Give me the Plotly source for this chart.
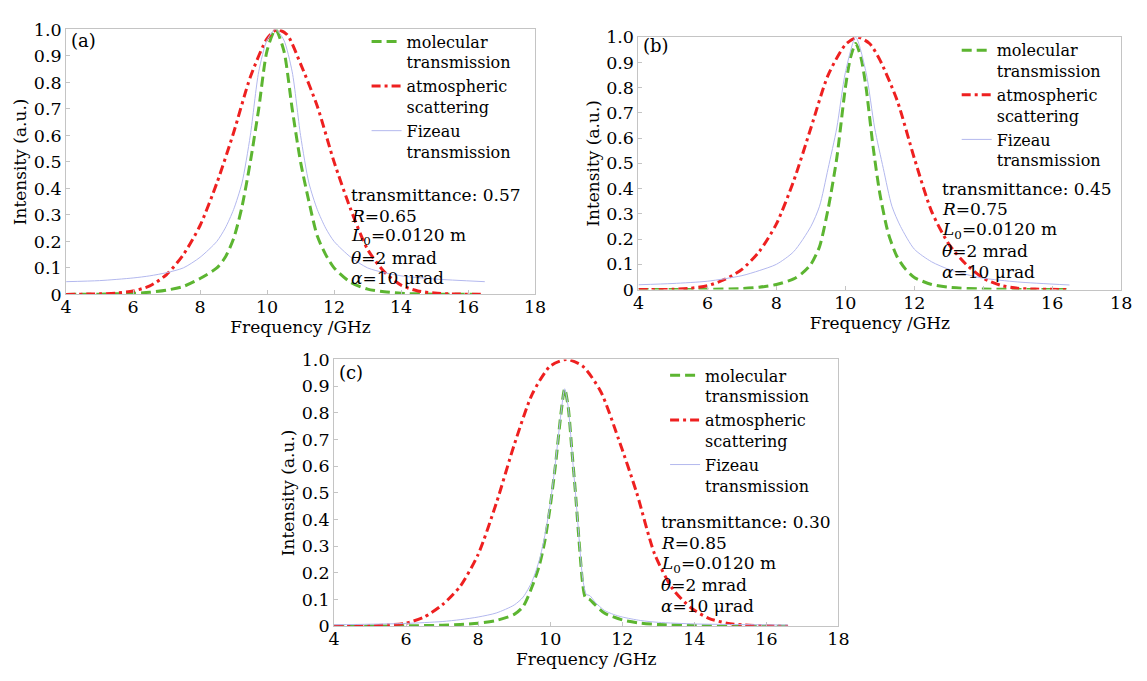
import plotly.graph_objects as go

# ---------------- data ----------------
# Panel (a)
a_red_x = [4, 5, 5.5, 6, 6.5, 7, 7.5, 8, 8.5, 9, 9.5, 10, 10.3, 10.6, 11, 11.5, 12, 12.5, 13, 13.5, 14, 14.5, 15, 15.5, 16.5]
a_red_y = [0, 0.002, 0.005, 0.013, 0.032, 0.075, 0.15, 0.26, 0.42, 0.61, 0.82, 0.965, 1.0, 0.98, 0.87, 0.71, 0.5, 0.32, 0.17, 0.085, 0.035, 0.013, 0.005, 0.002, 0]

a_green_x = [4, 5, 6, 6.5, 7, 7.5, 8, 8.5, 8.75, 9, 9.25, 9.5, 9.75, 10, 10.25, 10.5, 10.75, 11, 11.25, 11.5, 11.75, 12, 12.5, 13, 13.5, 14, 15, 16.5]
a_green_y = [0, 0.001, 0.004, 0.008, 0.016, 0.03, 0.06, 0.1, 0.14, 0.21, 0.33, 0.5, 0.7, 0.92, 1.0, 0.92, 0.7, 0.5, 0.35, 0.22, 0.15, 0.1, 0.045, 0.02, 0.01, 0.004, 0.001, 0]

a_blue_x = [4, 5, 6, 6.5, 7, 7.5, 8, 8.5, 8.75, 9, 9.25, 9.5, 9.75, 10, 10.25, 10.5, 10.75, 11, 11.25, 11.5, 11.75, 12, 12.5, 13, 13.5, 14, 15, 16.5]
a_blue_y = [0.048, 0.052, 0.062, 0.07, 0.082, 0.1, 0.14, 0.2, 0.25, 0.32, 0.42, 0.6, 0.84, 0.96, 1.0, 0.96, 0.84, 0.6, 0.42, 0.32, 0.25, 0.2, 0.14, 0.1, 0.082, 0.07, 0.058, 0.048]

# Panel (b)
b_red_x = [4, 5, 5.5, 6, 6.5, 7, 7.5, 8, 8.5, 9, 9.5, 10, 10.35, 10.7, 11, 11.5, 12, 12.5, 13, 13.5, 14, 14.5, 15, 15.5, 16.5]
b_red_y = [0, 0.001, 0.005, 0.015, 0.04, 0.08, 0.15, 0.26, 0.43, 0.64, 0.85, 0.97, 1.0, 0.975, 0.91, 0.75, 0.52, 0.31, 0.18, 0.1, 0.045, 0.017, 0.005, 0.002, 0]

b_green_x = [4, 6, 7, 7.5, 8, 8.5, 8.75, 9, 9.25, 9.5, 9.75, 10, 10.15, 10.3, 10.45, 10.6, 10.8, 11, 11.25, 11.5, 11.75, 12, 12.5, 13, 14, 16.5]
b_green_y = [0, 0.001, 0.004, 0.009, 0.02, 0.042, 0.065, 0.1, 0.17, 0.32, 0.52, 0.8, 0.92, 0.975, 0.92, 0.8, 0.57, 0.38, 0.22, 0.13, 0.08, 0.048, 0.02, 0.009, 0.002, 0]

b_blue_x = [4, 5, 6, 7, 7.5, 8, 8.5, 9, 9.25, 9.5, 9.75, 10, 10.3, 10.6, 10.85, 11.1, 11.35, 11.6, 12, 12.5, 13, 13.5, 14, 15, 16.5]
b_blue_y = [0.019, 0.024, 0.033, 0.055, 0.075, 0.1, 0.15, 0.25, 0.33, 0.48, 0.64, 0.86, 1.0, 0.86, 0.64, 0.48, 0.33, 0.25, 0.16, 0.11, 0.08, 0.06, 0.045, 0.03, 0.018]

# Panel (c)
c_red_x = [4, 5, 5.5, 6, 6.5, 7, 7.5, 8, 8.5, 9, 9.5, 10, 10.45, 10.9, 11.4, 11.9, 12.4, 12.9, 13.4, 13.9, 14.4, 14.9, 15.4, 16, 16.6]
c_red_y = [0, 0.002, 0.005, 0.012, 0.035, 0.08, 0.15, 0.27, 0.46, 0.68, 0.87, 0.975, 1.0, 0.975, 0.88, 0.7, 0.5, 0.27, 0.14, 0.07, 0.03, 0.012, 0.005, 0.002, 0]

c_green_x = [4, 5, 6, 7, 7.5, 8, 8.5, 9, 9.25, 9.5, 9.7, 9.85, 10, 10.15, 10.3, 10.4, 10.5, 10.6, 10.7, 10.8, 10.9, 10.97, 11.1, 11.25, 11.5, 12, 12.5, 13, 14, 15, 16.6]
c_green_y = [0, 0.001, 0.002, 0.004, 0.007, 0.012, 0.022, 0.045, 0.075, 0.15, 0.23, 0.32, 0.45, 0.61, 0.8, 0.89, 0.82, 0.66, 0.5, 0.32, 0.16, 0.11, 0.1, 0.08, 0.05, 0.024, 0.012, 0.007, 0.003, 0.001, 0]

c_blue_x = [4, 5, 6, 7, 7.5, 8, 8.5, 9, 9.25, 9.5, 9.7, 9.85, 10, 10.15, 10.3, 10.4, 10.5, 10.6, 10.7, 10.8, 10.9, 11.0, 11.1, 11.25, 11.5, 11.75, 12, 12.5, 13, 14, 15, 16.6]
c_blue_y = [0.006, 0.008, 0.011, 0.018, 0.025, 0.035, 0.05, 0.08, 0.11, 0.17, 0.25, 0.34, 0.46, 0.62, 0.8, 0.89, 0.82, 0.66, 0.5, 0.33, 0.18, 0.12, 0.115, 0.09, 0.06, 0.045, 0.035, 0.022, 0.015, 0.009, 0.007, 0.005]

panel_labels = ["(a)", "(b)", "(c)"]
params = [
    ["transmittance: 0.57", "<i>R</i>=0.65", "<i>L</i><sub>0</sub>=0.0120 m", "<i>θ</i>=2 mrad", "<i>α</i>=10 μrad"],
    ["transmittance: 0.45", "<i>R</i>=0.75", "<i>L</i><sub>0</sub>=0.0120 m", "<i>θ</i>=2 mrad", "<i>α</i>=10 μrad"],
    ["transmittance: 0.30", "<i>R</i>=0.85", "<i>L</i><sub>0</sub>=0.0120 m", "<i>θ</i>=2 mrad", "<i>α</i>=10 μrad"],
]
names = ["molecular<br>transmission", "atmospheric<br>scattering", "Fizeau<br>transmission"]
x_ticks = [4, 6, 8, 10, 12, 14, 16, 18]
y_ticks = [0, 0.1, 0.2, 0.3, 0.4, 0.5, 0.6, 0.7, 0.8, 0.9, 1.0]
y_ticktext = ["0", "0.1", "0.2", "0.3", "0.4", "0.5", "0.6", "0.7", "0.8", "0.9", "1.0"]

# ---------------- figure ----------------
W, H = 1147, 681
FONT = "DejaVu Serif"
GREEN = "#5cb531"
RED = "#ee2020"
BLUE = "#b3b8ee"

# plot boxes in pixels: (left, right, top, bottom)
boxes = [(61, 537, 20, 293), (642, 1132, 28, 288), (333, 845, 360, 635)]
legend_pos = [(366, 15), (965, 24), (669, 359)]
text_left = [348, 948, 663]          # px
text_first = [191, 184, 528]         # px, centre of first line
LINE = 21.4
label_y = [0.958, 0.968, 0.952]

panels = [
    (a_green_x, a_green_y, a_red_x, a_red_y, a_blue_x, a_blue_y),
    (b_green_x, b_green_y, b_red_x, b_red_y, b_blue_x, b_blue_y),
    (c_green_x, c_green_y, c_red_x, c_red_y, c_blue_x, c_blue_y),
]

fig = go.Figure()
layout = dict(width=W, height=H, margin=dict(l=0, r=0, t=0, b=0),
              paper_bgcolor="white", plot_bgcolor="white",
              font=dict(family=FONT, size=17, color="black"),
              annotations=[])

for i, (gx, gy, rx, ry, bx, by) in enumerate(panels):
    n = i + 1
    xa = "x" if n == 1 else f"x{n}"
    ya = "y" if n == 1 else f"y{n}"
    lg = "legend" if n == 1 else f"legend{n}"
    fig.add_trace(go.Scatter(x=gx, y=gy, mode="lines", name=names[0], xaxis=xa, yaxis=ya, legend=lg,
                             line=dict(color=GREEN, width=3, dash="10px,5px", shape="spline", smoothing=0.7)))
    fig.add_trace(go.Scatter(x=rx, y=ry, mode="lines", name=names[1], xaxis=xa, yaxis=ya, legend=lg,
                             line=dict(color=RED, width=3, dash="9px,4px,3px,4px", shape="spline", smoothing=0.7)))
    fig.add_trace(go.Scatter(x=bx, y=by, mode="lines", name=names[2], xaxis=xa, yaxis=ya, legend=lg,
                             line=dict(color=BLUE, width=1, shape="spline", smoothing=0.7)))
    l, r, t, b = boxes[i]
    axis_common = dict(showgrid=False, zeroline=False, showline=True, linecolor="#c4c4c4", linewidth=1,
                       mirror=True, ticks="inside", ticklen=4, tickcolor="#c4c4c4",
                       tickfont=dict(family=FONT, size=17.5, color="black"))
    layout["xaxis" if n == 1 else f"xaxis{n}"] = dict(
        axis_common, domain=[l / W, r / W], range=[4, 18], anchor=ya,
        tickvals=x_ticks, ticktext=[str(v) for v in x_ticks], ticklabelstandoff=-3,
        title=dict(text="Frequency /GHz", font=dict(family=FONT, size=17), standoff=0))
    layout["yaxis" if n == 1 else f"yaxis{n}"] = dict(
        axis_common, domain=[1 - b / H, 1 - t / H], range=[0, 1.0], anchor=xa,
        tickvals=y_ticks, ticktext=y_ticktext,
        title=dict(text="Intensity (a.u.)", font=dict(family=FONT, size=17), standoff=2))
    lx, ly = legend_pos[i]
    layout[lg] = dict(x=lx / W, y=1 - ly / H, xanchor="left", yanchor="top",
                      font=dict(family=FONT, size=16, color="black"), bgcolor="rgba(0,0,0,0)",
                      valign="top", itemwidth=30, tracegroupgap=0, traceorder="normal")
    for k, line in enumerate(params[i]):
        layout["annotations"].append(dict(
            x=text_left[i] / W, y=1 - (text_first[i] + k * LINE) / H, xref="paper", yref="paper",
            xanchor="left", yanchor="middle", align="left", showarrow=False,
            text=line, font=dict(family=FONT, size=17, color="black")))
    layout["annotations"].append(dict(
        x=4.08, y=label_y[i], xref=xa, yref=ya, xanchor="left", yanchor="middle", showarrow=False,
        text=panel_labels[i], font=dict(family=FONT, size=18, color="black")))

fig.update_layout(**layout)
fig.write_html("out.html")
